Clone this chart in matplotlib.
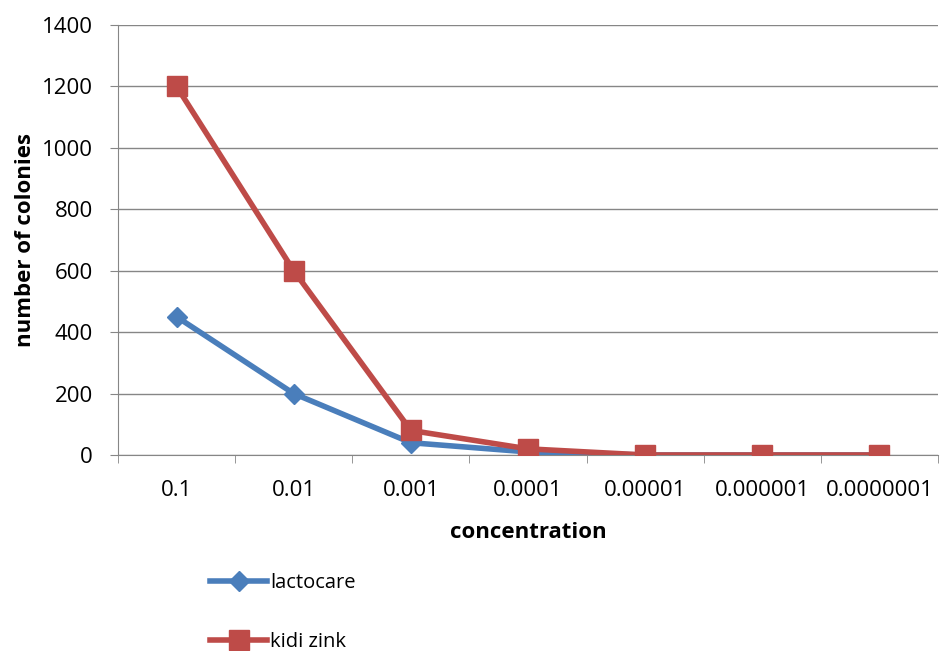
import matplotlib
matplotlib.use("Agg")
import matplotlib.pyplot as plt
import numpy as np
from matplotlib.ticker import FixedLocator

categories = ["0.1", "0.01", "0.001", "0.0001", "0.00001", "0.000001", "0.0000001"]
lactocare = [450, 200, 40, 10, 0, 0, 0]
kidi_zink = [1200, 600, 80, 20, 0, 0, 0]
yticks = [0, 200, 400, 600, 800, 1000, 1200, 1400]

plt.rcParams['font.family'] = ['Open Sans', 'DejaVu Sans']

fig = plt.figure(figsize=(9.41, 6.51), dpi=100)
ax = fig.add_axes([118/941, 1-455/651, (938-118)/941, (455-25)/651])

x = np.arange(len(categories))
ax.plot(x, lactocare, color="#4a7ebb", lw=4, marker="D", ms=10, label="lactocare", zorder=3)
ax.plot(x, kidi_zink, color="#be4b48", lw=4, marker="s", ms=14, label="kidi zink", zorder=4)

ax.set_xlim(-0.5, len(categories)-0.5)
ax.set_ylim(0, 1400)
ax.set_yticks(yticks)
ax.set_xticks(x)
ax.set_xticklabels(categories)
ax.xaxis.set_minor_locator(FixedLocator(np.arange(-0.5, len(categories)+0.5, 1)))
ax.tick_params(axis='x', which='major', length=0, pad=18, labelsize=16)
ax.tick_params(axis='x', which='minor', length=6, color="#868686", direction='out')
ax.tick_params(axis='y', length=6, color="#868686", labelsize=16, pad=12)
ax.grid(axis='y', color="#868686", lw=1)
ax.set_axisbelow(True)
for s in ["top", "right"]:
    ax.spines[s].set_visible(False)
ax.spines["left"].set_color("#868686")
ax.spines["bottom"].set_color("#868686")

ax.set_xlabel("concentration", fontsize=16, fontweight="bold", labelpad=15)
ax.set_ylabel("number of colonies", fontsize=16, fontweight="bold", labelpad=4)

fig.legend(loc="upper left", bbox_to_anchor=(192/941, 1-555/651), frameon=False,
           fontsize=14.5, labelspacing=1.95, handlelength=2.83, handletextpad=0.15)

fig.savefig("out.png", dpi=100)
